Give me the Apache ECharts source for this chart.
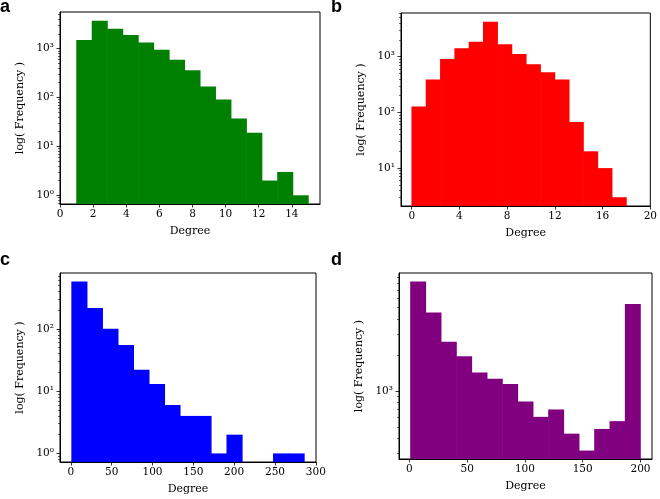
<!DOCTYPE html>
<html><head><meta charset="utf-8">
<script src="https://cdn.jsdelivr.net/npm/echarts@6/dist/echarts.min.js"></script>
<style>html,body{margin:0;padding:0;background:#fff}#c{width:660px;height:499px}</style>
</head><body><div id="c"></div>
<script>
// ---- data ----
const rangeA = [1, 15];
const countsA = [1500, 3700, 2540, 1890, 1320, 940, 590, 358, 167, 91, 37, 19, 2, 3, 1];
const ticksA = [0, 2, 4, 6, 8, 10, 12, 14];

const rangeB = [0, 18];
const countsB = [128, 388, 908, 1410, 1850, 4220, 1660, 1116, 730, 525, 388, 67, 20, 10, 3];
const ticksB = [0, 4, 8, 12, 16, 20];

const rangeC = [1, 286];
const countsC = [574, 217, 100, 55, 22, 13, 6, 4, 4, 1, 2, 0, 0, 1, 1];
const ticksC = [0, 50, 100, 150, 200, 250, 300];

const rangeD = [1, 200];
const countsD = [8300, 4550, 2590, 1960, 1430, 1267, 1144, 815, 606, 699, 438, 316, 480, 558, 5380];
const ticksD = [0, 50, 100, 150, 200];

const panelLetters = ['a', 'b', 'c', 'd'];
const colors = ['#008000', '#ff0000', '#0000ff', '#800080'];
const xName = 'Degree';
const yName = 'log( Frequency )';

// ---- layout ----
const grids = [
  {left: 60, top: 12, width: 260, height: 192},
  {left: 401, top: 13, width: 252, height: 193},
  {left: 60, top: 273, width: 256, height: 189},
  {left: 399, top: 273, width: 253, height: 186}
];
const letterPos = [[0, -2], [331, -2], [0, 251], [331, 251]];

const panels = [
  {range: rangeA, counts: countsA, ticks: ticksA},
  {range: rangeB, counts: countsB, ticks: ticksB},
  {range: rangeC, counts: countsC, ticks: ticksC},
  {range: rangeD, counts: countsD, ticks: ticksD}
];

const SUP = {'0':'⁰','1':'¹','2':'²','3':'³','4':'⁴','5':'⁵','-':'⁻'};
function supLabel(v) {
  const e = Math.round(Math.log10(v));
  return '10' + String(e).split('').map(ch => SUP[ch]).join('');
}

const serif = 'DejaVu Serif';
const option = {animation: false, backgroundColor: '#fff', grid: [], xAxis: [], yAxis: [], series: [], graphic: []};

panels.forEach((p, i) => {
  const n = p.counts.length;
  const w = (p.range[1] - p.range[0]) / n;
  const span = p.range[1] - p.range[0];
  const xMin = Math.min(p.range[0] - 0.05 * span, p.ticks[0]);
  const xMax = Math.max(p.range[1] + 0.05 * span, p.ticks[p.ticks.length - 1]);
  const pos = p.counts.filter(c => c > 0);
  const lmin = Math.log10(Math.min(...pos)), lmax = Math.log10(Math.max(...pos));
  const lm = 0.05 * (lmax - lmin);
  const yMin = Math.pow(10, lmin - lm), yMax = Math.pow(10, lmax + lm);
  const majors = [], minors = [];
  for (let e = Math.floor(lmin - lm) - 1; e <= Math.ceil(lmax + lm); e++) {
    const b = Math.pow(10, e);
    if (b >= yMin && b <= yMax) majors.push(b);
    for (let k = 2; k <= 9; k++) { const v = k * b; if (v >= yMin && v <= yMax) minors.push(v); }
  }
  option.grid.push(Object.assign({show: true, borderColor: '#000', borderWidth: 1, backgroundColor: 'transparent'}, grids[i]));
  option.xAxis.push({
    type: 'value', gridIndex: i, min: xMin, max: xMax,
    axisLine: {show: true, onZero: false, lineStyle: {color: '#000', width: 1}},
    axisTick: {show: true, length: 3.5, lineStyle: {color: '#000', width: 0.8}, customValues: p.ticks},
    axisLabel: {customValues: p.ticks, color: '#000', fontFamily: serif, fontSize: 10.5, margin: 5},
    splitLine: {show: false},
    name: xName, nameLocation: 'middle', nameGap: 22,
    nameTextStyle: {color: '#000', fontFamily: serif, fontSize: 11}
  });
  option.yAxis.push({
    type: 'log', logBase: 10, gridIndex: i, min: yMin, max: yMax, position: 'left',
    axisLine: {show: true, onZero: false, lineStyle: {color: '#000', width: 1}},
    axisTick: {show: true, length: 3.5, lineStyle: {color: '#000', width: 0.8}, customValues: majors},
    axisLabel: {customValues: majors, formatter: v => supLabel(v), color: '#000', fontFamily: serif, fontSize: 10.5, margin: 6},
    splitLine: {show: false},
    name: yName, nameLocation: 'middle', nameGap: 34,
    nameTextStyle: {color: '#000', fontFamily: serif, fontSize: 11}
  });
  option.yAxis.push({
    type: 'log', logBase: 10, gridIndex: i, min: yMin, max: yMax, position: 'left', offset: 0,
    axisLine: {show: false, onZero: false},
    axisTick: {show: true, length: 2, lineStyle: {color: '#000', width: 0.6}, customValues: minors},
    axisLabel: {show: false},
    splitLine: {show: false}
  });
  const data = [];
  p.counts.forEach((c, j) => {
    if (c > 0) data.push([p.range[0] + j * w, p.range[0] + (j + 1) * w, c]);
  });
  const color = colors[i];
  option.series.push({
    type: 'custom', xAxisIndex: i, yAxisIndex: 2 * i,
    encode: {x: [0, 1], y: 2},
    data: data,
    renderItem: function (params, api) {
      const p0 = api.coord([api.value(0), api.value(2)]);
      const p1 = api.coord([api.value(1), yMin]);
      return {type: 'rect', shape: {x: p0[0] - 0.3, y: p0[1], width: p1[0] - p0[0] + 0.6, height: p1[1] - p0[1]},
        style: {fill: color}};
    }
  });
  option.graphic.push({type: 'text', left: letterPos[i][0], top: letterPos[i][1],
    style: {text: panelLetters[i], fill: '#000', font: 'bold 18px "Liberation Sans"'}});
});

const chart = echarts.init(document.getElementById('c'), null, {renderer: 'canvas'});
chart.setOption(option);
</script>
</body></html>
